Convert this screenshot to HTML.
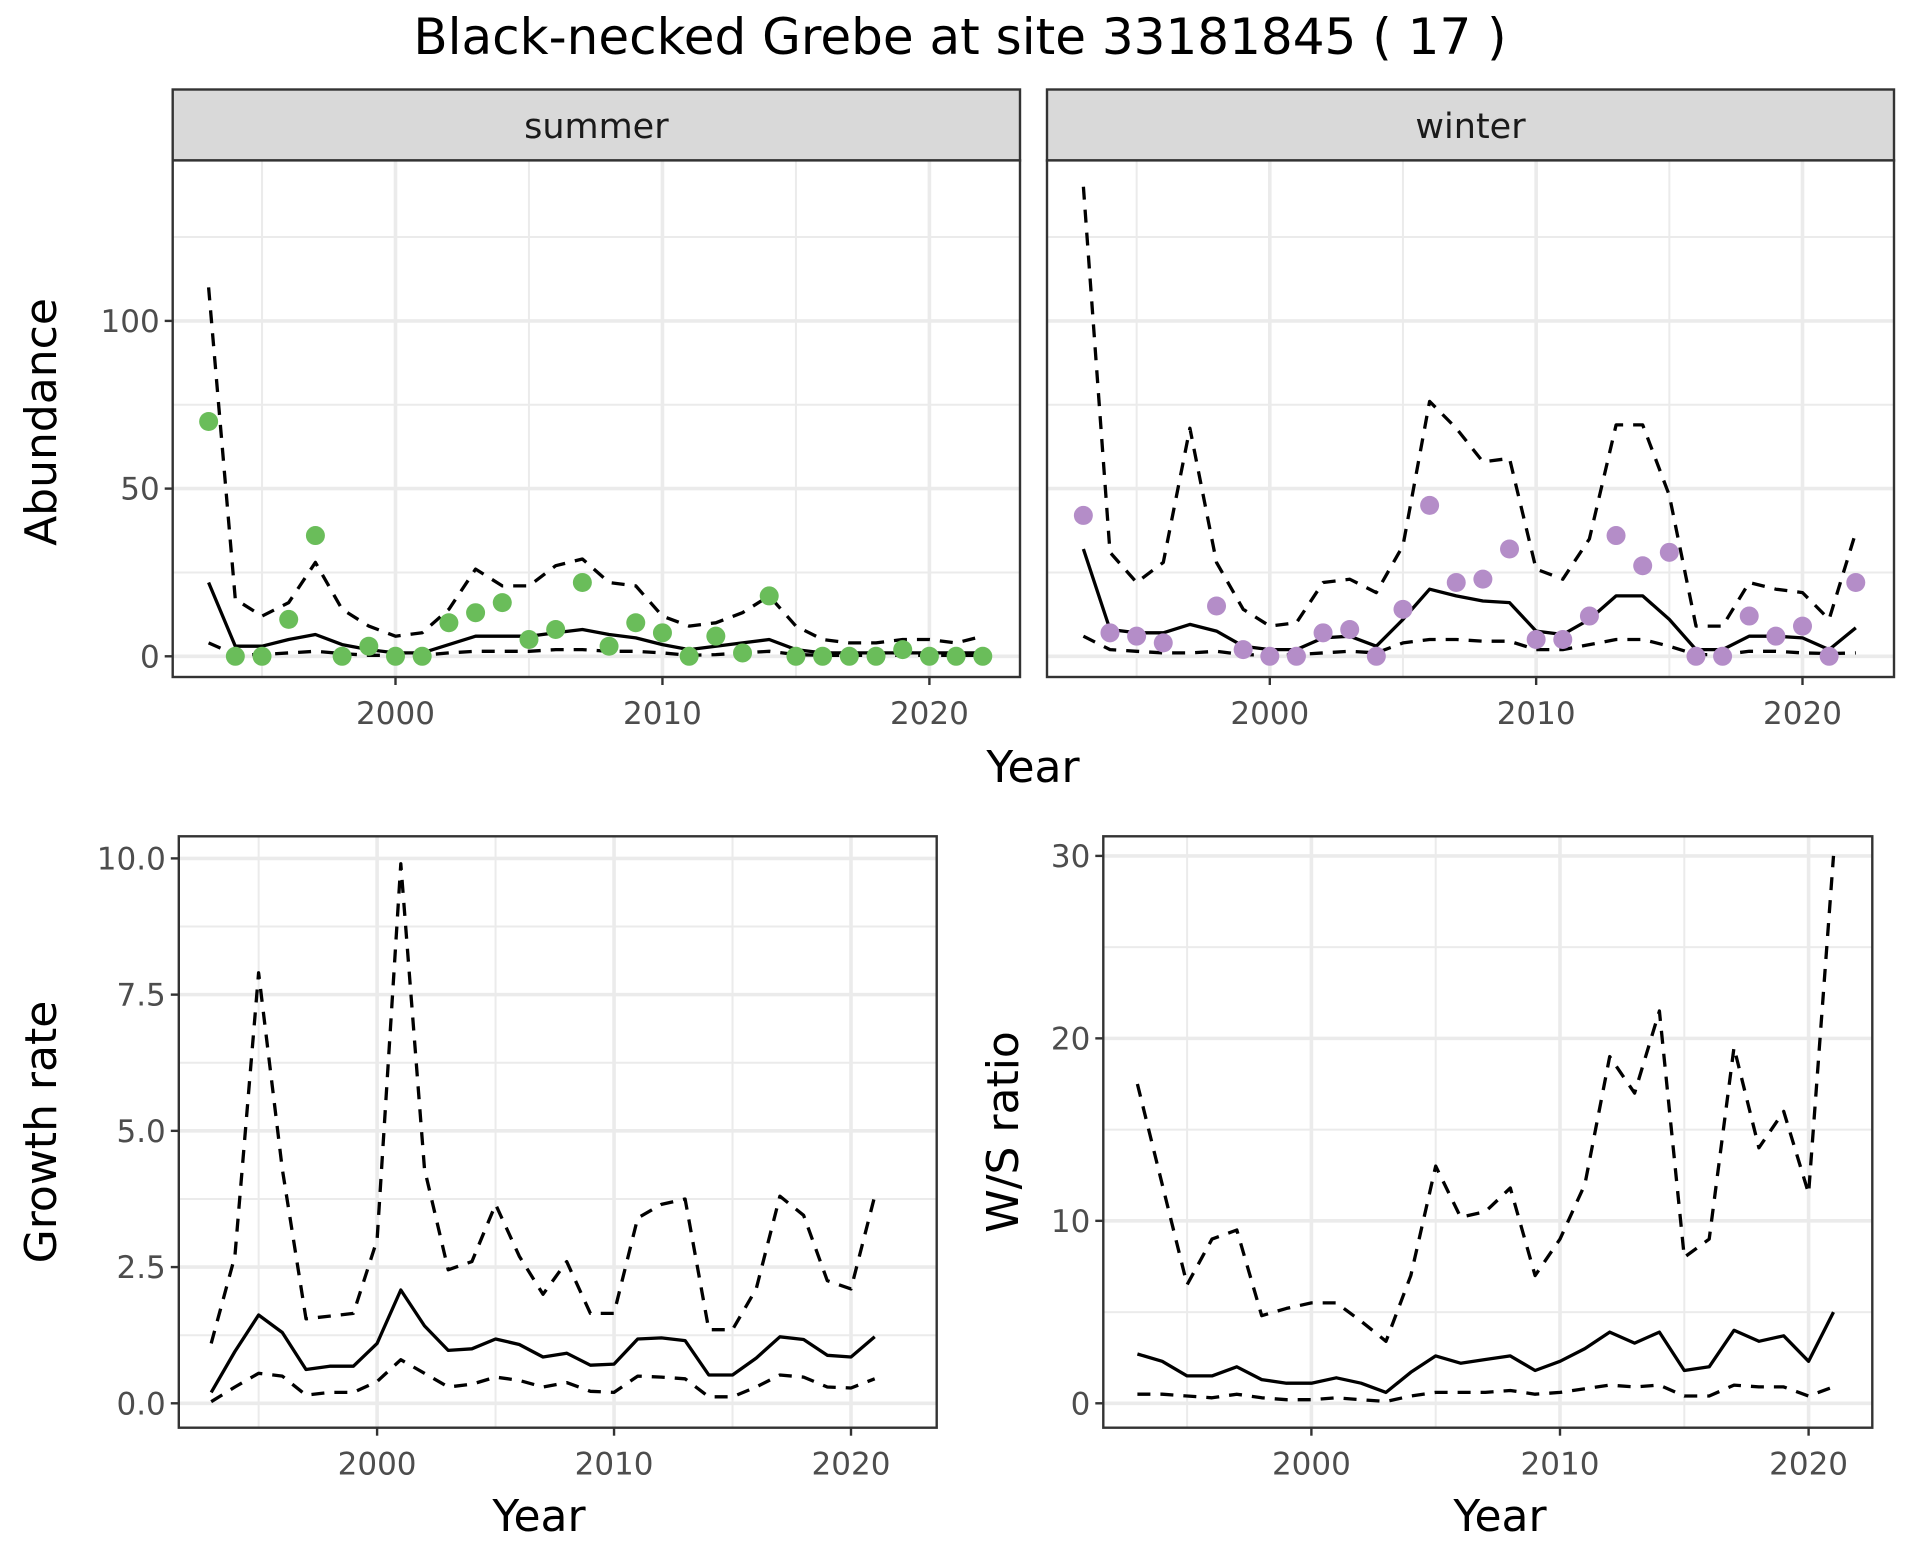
<!DOCTYPE html>
<html><head><meta charset="utf-8">
<style>
html,body{margin:0;padding:0;background:#fff;}
svg{display:block;font-family:"DejaVu Sans","Liberation Sans",sans-serif;}
</style></head>
<body>
<svg id="chart" width="1920" height="1560" viewBox="0 0 1920 1560">
<rect width="1920" height="1560" fill="#fff"/>
<text x="960" y="54" font-size="50" text-anchor="middle" fill="#000">Black-necked Grebe at site 33181845 ( 17 )</text>
</svg>
<script>
const yearsAbund = [1993,1994,1995,1996,1997,1998,1999,2000,2001,2002,2003,2004,2005,2006,2007,2008,2009,2010,2011,2012,2013,2014,2015,2016,2017,2018,2019,2020,2021,2022];
const summerObs = [70,0,0,11,36,0,3,0,0,10,13,16,5,8,22,3,10,7,0,6,1,18,0,0,0,0,2,0,0,0];
const summerMed = [22,3,3,5,6.5,3.5,2,1,1,3.5,6,6,6,7,8,6.5,5.5,3.5,2,3,4,5,2,1,1,1,1,1,1,1];
const summerUp = [110,17,12,16,28,14,9,6,7,14,26,21,21,27,29,22,21,12,9,10,13,18,9,5,4,4,5,5,4,6];
const summerLo = [4,0.5,0.5,1,1.5,0.8,0.3,0.3,0.3,1,1.5,1.5,1.5,2,2,1.5,1.5,1,0.3,0.5,1,1.5,0.5,0.3,0.3,0.3,0.3,0.3,0.3,0.3];
const winterObs = [42,7,6,4,null,15,2,0,0,7,8,0,14,45,22,23,32,5,5,12,36,27,31,0,0,12,6,9,0,22];
const winterMed = [32,8,7,7,9.5,7.5,3,2,2,5.5,6,3,11,20,18,16.5,16,7.5,6.5,11,18,18,11,2,2,6,6,5.5,2,8.5];
const winterUp = [140,31,22,28,68,28,14,9,10,22,23,19,33,76,68,58,59,26,23,35,69,69,48,9,9,22,20,19,11,37];
const winterLo = [6,2,1.5,1,1,1.5,0.5,0.3,0.5,1,1.5,1,4,5,5,4.5,4.5,2,2,3.5,5,5,3,0.5,0.5,1.5,1.5,1,0.8,1];
const yearsRate = [1993,1994,1995,1996,1997,1998,1999,2000,2001,2002,2003,2004,2005,2006,2007,2008,2009,2010,2011,2012,2013,2014,2015,2016,2017,2018,2019,2020,2021];
const growthMed = [0.2,0.95,1.62,1.3,0.62,0.68,0.68,1.1,2.08,1.42,0.97,1.0,1.18,1.08,0.85,0.92,0.7,0.72,1.18,1.2,1.15,0.52,0.52,0.83,1.22,1.17,0.88,0.85,1.22];
const growthUp = [1.1,2.7,7.9,4.3,1.55,1.6,1.65,3.0,9.9,4.3,2.45,2.6,3.65,2.7,2.0,2.6,1.65,1.65,3.4,3.65,3.75,1.35,1.35,2.1,3.8,3.45,2.25,2.1,3.8];
const growthLo = [0.03,0.3,0.55,0.5,0.15,0.2,0.2,0.4,0.8,0.55,0.3,0.35,0.48,0.42,0.3,0.38,0.22,0.2,0.5,0.48,0.45,0.12,0.12,0.3,0.52,0.48,0.3,0.28,0.45];
const wsMed = [2.7,2.3,1.5,1.5,2.0,1.3,1.1,1.1,1.4,1.1,0.6,1.7,2.6,2.2,2.4,2.6,1.8,2.3,3.0,3.9,3.3,3.9,1.8,2.0,4.0,3.4,3.7,2.3,5.0];
const wsUp = [17.5,12,6.5,9,9.5,4.8,5.2,5.5,5.5,4.5,3.4,7,13,10.2,10.5,11.8,7,9,12,19,17,21.5,8,9,19.5,14,16,11.5,30];
const wsLo = [0.5,0.5,0.4,0.3,0.5,0.3,0.2,0.2,0.3,0.2,0.1,0.4,0.6,0.6,0.6,0.7,0.5,0.6,0.8,1.0,0.9,1.0,0.4,0.4,1.0,0.9,0.9,0.4,0.9];
const abundTicks = [0,50,100];
const growthTicks = [0,2.5,5,7.5,10];
const growthTickLabels = ["0.0","2.5","5.0","7.5","10.0"];
const wsTicks = [0,10,20,30];
const yearTicks = [2000,2010,2020];

const NS = "http://www.w3.org/2000/svg";
const svg = document.getElementById('chart');
function mk(tag, attrs, parent){
  const e = document.createElementNS(NS, tag);
  for (const k in attrs) e.setAttribute(k, attrs[k]);
  (parent||svg).appendChild(e);
  return e;
}

function panel(name, box, xd, yd, yTicks, yLabels, showY, minorY){
  const g = mk('g', {});
  
  
  const sx = v => box.x + (v - xd[0]) / (xd[1] - xd[0]) * box.w;
  const sy = v => box.y + box.h - (v - yd[0]) / (yd[1] - yd[0]) * box.h;
  mk('rect', {x:box.x, y:box.y, width:box.w, height:box.h, fill:'#fff'}, g);
  [1995,2005,2015].forEach(v => { const l = mk('line', {x1:sx(v), x2:sx(v), y1:box.y, y2:box.y+box.h, stroke:'#ebebeb', 'stroke-width':2}, g);   });
  minorY.forEach(v => { const l = mk('line', {x1:box.x, x2:box.x+box.w, y1:sy(v), y2:sy(v), stroke:'#ebebeb', 'stroke-width':2}, g);   });
  yearTicks.forEach(v => { const l = mk('line', {x1:sx(v), x2:sx(v), y1:box.y, y2:box.y+box.h, stroke:'#ebebeb', 'stroke-width':3.6}, g);   });
  yTicks.forEach(v => { const l = mk('line', {x1:box.x, x2:box.x+box.w, y1:sy(v), y2:sy(v), stroke:'#ebebeb', 'stroke-width':3.6}, g);   });
  mk('rect', {x:box.x, y:box.y, width:box.w, height:box.h, fill:'none', stroke:'#333', 'stroke-width':2.4}, g);
  yearTicks.forEach(v => {
    mk('line', {x1:sx(v), x2:sx(v), y1:box.y+box.h, y2:box.y+box.h+8, stroke:'#333', 'stroke-width':2.4}, g);
    const t = mk('text', {x:sx(v), y:box.y+box.h+47, 'font-size':31, 'text-anchor':'middle', fill:'#4d4d4d'}, g);
    t.textContent = v;
    
    
  });
  if (showY) yTicks.forEach((v,i) => {
    mk('line', {x1:box.x-8, x2:box.x, y1:sy(v), y2:sy(v), stroke:'#333', 'stroke-width':2.4}, g);
    const t = mk('text', {x:box.x-13, y:sy(v)+11, 'font-size':31, 'text-anchor':'end', fill:'#4d4d4d'}, g);
    t.textContent = yLabels[i];
    
    
  });
  return {g, sx, sy};
}
function line(p, xs, ys, dashed, name){
  let d = '';
  xs.forEach((x,i) => { if (ys[i] == null) return; d += (d ? 'L' : 'M') + p.sx(x).toFixed(1) + ',' + p.sy(ys[i]).toFixed(1); });
  const e = mk('path', {d, fill:'none', stroke:'#000', 'stroke-width':3.3, 'stroke-dasharray': dashed ? '13,10' : 'none', 'stroke-linejoin':'round'}, p.g);
  
  
}
function points(p, xs, ys, col, name){
  xs.forEach((x,i) => {
    if (ys[i] == null) return;
    const c = mk('circle', {cx:p.sx(x), cy:p.sy(ys[i]), r:9.5, fill:col}, p.g);
    
    
  });
}
function strip(box, label, name){
  const r = mk('rect', {x:box.x, y:89.5, width:box.w, height:71, fill:'#d9d9d9', stroke:'#333', 'stroke-width':2.4});
  
  
  const t = mk('text', {x:box.x+box.w/2, y:138, 'font-size':35, 'text-anchor':'middle', fill:'#1a1a1a'});
  t.textContent = label;
  
  
}

const aPerUnit = (656.3-488.6)/50;
const aTop = 160.4, aBot = 677;
const aYd = [(656.3-aBot)/aPerUnit, (656.3-aTop)/aPerUnit];
const sPer = (929.4-395.5)/20;
const sBox = {x:172.7, y:aTop, w:1020-172.7, h:aBot-aTop};
const sXd = [2000 + (sBox.x-395.5)/sPer, 2000 + (sBox.x+sBox.w-395.5)/sPer];
strip(sBox, 'summer', 'summer');
const ps = panel('summer', sBox, sXd, aYd, abundTicks, abundTicks, true, [25,75,125]);
line(ps, yearsAbund, summerUp, true, 'summer-upper-ci');
line(ps, yearsAbund, summerLo, true, 'summer-lower-ci');
line(ps, yearsAbund, summerMed, false, 'summer-estimate');
points(ps, yearsAbund, summerObs, '#6abd5a', 'summer-count-point');

const wPer = (1802.5-1269.8)/20;
const wBox = {x:1047, y:aTop, w:1894-1047, h:aBot-aTop};
const wXd = [2000 + (wBox.x-1269.8)/wPer, 2000 + (wBox.x+wBox.w-1269.8)/wPer];
strip(wBox, 'winter', 'winter');
const pw = panel('winter', wBox, wXd, aYd, abundTicks, abundTicks, false, [25,75,125]);
line(pw, yearsAbund, winterUp, true, 'winter-upper-ci');
line(pw, yearsAbund, winterLo, true, 'winter-lower-ci');
line(pw, yearsAbund, winterMed, false, 'winter-estimate');
points(pw, yearsAbund, winterObs, '#b48dc8', 'winter-count-point');

const gBox = {x:178.8, y:836.3, w:936.7-178.8, h:1427.7-836.3};
const gPerY = (1403.3-858.4)/10;
const gYd = [(1403.3-gBox.y-gBox.h)/gPerY, (1403.3-gBox.y)/gPerY];
const gPerX = (851.0-377.1)/20;
const gXd = [2000 + (gBox.x-377.1)/gPerX, 2000 + (gBox.x+gBox.w-377.1)/gPerX];
const pg = panel('growth', gBox, gXd, gYd, growthTicks, growthTickLabels, true, [1.25,3.75,6.25,8.75]);
line(pg, yearsRate, growthUp, true, 'growth-upper-ci');
line(pg, yearsRate, growthLo, true, 'growth-lower-ci');
line(pg, yearsRate, growthMed, false, 'growth-estimate');

const rBox = {x:1103.3, y:836.3, w:1872.3-1103.3, h:1427.7-836.3};
const rPerY = (1403.3-855.9)/30;
const rYd = [(1403.3-rBox.y-rBox.h)/rPerY, (1403.3-rBox.y)/rPerY];
const rPerX = (1808.6-1311.4)/20;
const rXd = [2000 + (rBox.x-1311.4)/rPerX, 2000 + (rBox.x+rBox.w-1311.4)/rPerX];
const pr = panel('ws-ratio', rBox, rXd, rYd, wsTicks, wsTicks, true, [5,15,25]);
line(pr, yearsRate, wsUp, true, 'ws-upper-ci');
line(pr, yearsRate, wsLo, true, 'ws-lower-ci');
line(pr, yearsRate, wsMed, false, 'ws-estimate');

function title(txt, x, y, rot, name){
  const t = mk('text', {x, y, 'font-size':44, 'text-anchor':'middle', fill:'#000', transform: rot ? `rotate(-90 ${x} ${y})` : ''});
  t.textContent = txt;
  
  
}
title('Year', 1033, 782, false, 'top-x-axis-title');
title('Abundance', 56, 422, true, 'abundance-y-axis-title');
title('Year', 539, 1531, false, 'growth-x-axis-title');
title('Growth rate', 56, 1132, true, 'growth-y-axis-title');
title('Year', 1500, 1531, false, 'ws-x-axis-title');
title('W/S ratio', 1018, 1132, true, 'ws-y-axis-title');
</script>
</body></html>
